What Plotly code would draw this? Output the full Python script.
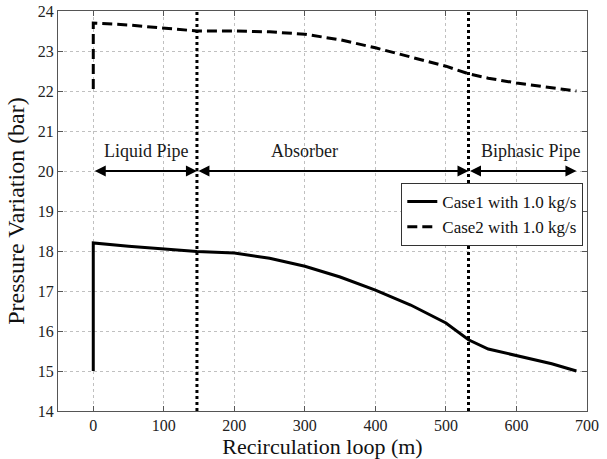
import plotly.graph_objects as go

# Data
case1_x = [0, 0, 50, 100, 147, 200, 250, 300, 350, 400, 450, 500, 532, 560, 600, 650, 685]
case1_y = [15.0, 18.2, 18.12, 18.05, 17.99, 17.95, 17.82, 17.62, 17.35, 17.02, 16.65, 16.2, 15.78, 15.55, 15.38, 15.18, 15.0]
case2_x = [0, 0, 50, 100, 147, 200, 250, 300, 350, 400, 450, 500, 532, 560, 600, 650, 685]
case2_y = [22.05, 23.7, 23.65, 23.58, 23.5, 23.5, 23.48, 23.42, 23.28, 23.08, 22.85, 22.62, 22.43, 22.32, 22.2, 22.08, 22.0]
boundaries = [147, 532]
section_names = ["Liquid Pipe", "Absorber", "Biphasic Pipe"]
section_label_x = [75, 300, 620]
section_start = [0, 147, 532]
section_end = [147, 532, 685]
arrow_y = 20
label_y = 20.5
series_names = ["Case1 with 1.0 kg/s", "Case2 with 1.0 kg/s"]

FONT = "Liberation Serif, Times New Roman, serif"

fig = go.Figure()
fig.add_trace(go.Scatter(x=case1_x, y=case1_y, mode="lines", name=series_names[0],
                         line=dict(color="black", width=3)))
fig.add_trace(go.Scatter(x=case2_x, y=case2_y, mode="lines", name=series_names[1],
                         line=dict(color="black", width=3, dash="10px,5px")))

for b in boundaries:
    fig.add_shape(type="line", xref="x", yref="y", x0=b, x1=b, y0=14, y1=24,
                  line=dict(color="black", width=3, dash="dot"))

for s, e in zip(section_start, section_end):
    fig.add_annotation(x=e, y=arrow_y, ax=s, ay=arrow_y, xref="x", yref="y",
                       axref="x", ayref="y", text="", showarrow=True,
                       arrowhead=2, arrowsize=1.1, arrowwidth=2, arrowside="end+start",
                       arrowcolor="black")

for name, lx in zip(section_names, section_label_x):
    fig.add_annotation(x=lx, y=label_y, xref="x", yref="y", text=name, showarrow=False,
                       font=dict(family=FONT, size=18, color="#1a1a1a"))

axis_common = dict(showgrid=True, gridcolor="#c0c0c0", griddash="dot", gridwidth=1,
                   showline=True, linecolor="#555555", linewidth=1, mirror="ticks",
                   ticks="inside", ticklen=5, tickcolor="#555555", zeroline=False,
                   automargin=False,
                   tickfont=dict(family=FONT, size=16, color="#222222"))

fig.update_xaxes(range=[-50, 700], tickvals=[0, 100, 200, 300, 400, 500, 600, 700],
                 title=dict(text="Recirculation loop (m)", font=dict(family=FONT, size=22, color="#111111"), standoff=3),
                 **axis_common)
fig.update_yaxes(range=[14, 24], dtick=1,
                 title=dict(text="Pressure Variation (bar)", font=dict(family=FONT, size=24, color="#111111"), standoff=6),
                 **axis_common)

fig.update_layout(
    width=607, height=459,
    margin=dict(l=58, r=20, t=11, b=48),
    plot_bgcolor="white", paper_bgcolor="white",
    legend=dict(x=0.993, y=0.57, xanchor="right", yanchor="top",
                bgcolor="white", bordercolor="#333333", borderwidth=1,
                font=dict(family=FONT, size=17, color="#111111"),
                tracegroupgap=0, itemwidth=30),
    showlegend=True,
)

fig.write_html("out.html")
